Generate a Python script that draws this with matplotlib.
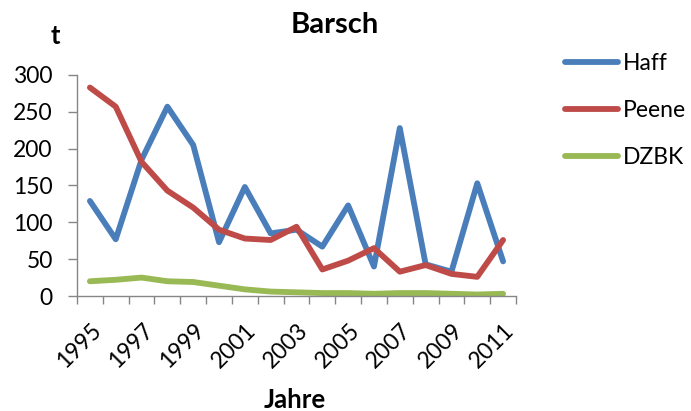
import matplotlib
matplotlib.use("Agg")
import matplotlib.pyplot as plt
import matplotlib.transforms as mtransforms
import numpy as np

years = list(range(1995, 2012))
haff = [129, 77, 185, 257, 205, 73, 148, 85, 90, 67, 123, 40, 228, 43, 33, 153, 47]
peene = [283, 257, 182, 143, 120, 90, 78, 76, 94, 36, 48, 65, 33, 42, 30, 26, 76]
dzbk = [20, 22, 25, 20, 19, 14, 9, 6, 5, 4, 4, 3, 4, 4, 3, 2, 3]
yticks = [0, 50, 100, 150, 200, 250, 300]

plt.rcParams['font.family'] = ['Lato', 'DejaVu Sans']
FS = 16.5

fig = plt.figure(figsize=(6.91, 4.11), dpi=100)
ax = fig.add_axes([77/691, 1-296/411, (516-77)/691, (296-75)/411])

x = np.arange(len(years))
lw = 4.2
kw = dict(lw=lw, solid_joinstyle='round', solid_capstyle='round')
ax.plot(x, haff, color='#4A7EBB', label='Haff', **kw)
ax.plot(x, peene, color='#BE4B48', label='Peene', **kw)
ax.plot(x, dzbk, color='#98B954', label='DZBK', **kw)

ax.set_xlim(-0.5, len(years) - 0.5)
ax.set_ylim(0, 300)
ax.set_yticks(yticks)
ax.set_yticklabels([str(v) for v in yticks], fontsize=FS)
ax.set_xticks(x[::2])
ax.set_xticklabels([str(y) for y in years[::2]], rotation=45, ha='right', va='center',
                   rotation_mode='anchor', fontsize=FS)
ax.set_xticks(np.arange(-0.5, len(years)), minor=True)
ax.tick_params(axis='x', which='major', length=0, pad=0)
ax.tick_params(axis='x', which='minor', length=6, color='#868686', width=1)
ax.tick_params(axis='y', length=6.5, color='#868686', width=1, pad=11)
off = mtransforms.ScaledTranslation(8/100, -31/100, fig.dpi_scale_trans)
for lab in ax.get_xticklabels():
    lab.set_transform(lab.get_transform() + off)
for s in ['top', 'right']:
    ax.spines[s].set_visible(False)
for s in ['left', 'bottom']:
    ax.spines[s].set_color('#868686')
    ax.spines[s].set_linewidth(1)

fig.text(335/691, 1-25/411, 'Barsch', ha='center', va='center', fontsize=21, fontweight='bold')
fig.text(55/691, 1-36/411, 't', ha='center', va='center', fontsize=18.5, fontweight='bold')
fig.text(295/691, 1-400/411, 'Jahre', ha='center', va='center', fontsize=18.5, fontweight='bold')

leg = ax.legend(loc='upper left', bbox_to_anchor=(565/691, 1-53/411),
                bbox_transform=fig.transFigure, frameon=False, fontsize=FS,
                handlelength=2.3, labelspacing=1.13, handletextpad=0.22,
                borderaxespad=0, borderpad=0)

fig.savefig('out.png', dpi=100)
